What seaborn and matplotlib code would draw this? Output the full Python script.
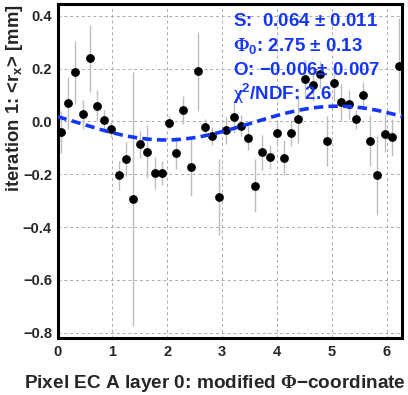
import numpy as np
import pandas as pd
import matplotlib
matplotlib.use("Agg")
import matplotlib.pyplot as plt
from matplotlib.ticker import MultipleLocator
import seaborn as sns

# bin centres in modified phi (48 bins over 0..2pi)
phi = [0.065, 0.196, 0.327, 0.458, 0.589, 0.720, 0.851, 0.982, 1.113, 1.244,
       1.374, 1.505, 1.636, 1.767, 1.898, 2.029, 2.160, 2.291, 2.422, 2.553,
       2.683, 2.814, 2.945, 3.076, 3.207, 3.338, 3.469, 3.600, 3.731, 3.861,
       3.992, 4.123, 4.254, 4.385, 4.516, 4.647, 4.778, 4.909, 5.040, 5.171,
       5.301, 5.432, 5.563, 5.694, 5.825, 5.956, 6.087, 6.218]
# mean residual <r_x> [mm]
rx = [-0.040, 0.071, 0.186, 0.028, 0.239, 0.060, 0.005, -0.030, -0.204, -0.143,
      -0.293, -0.087, -0.115, -0.194, -0.194, -0.004, -0.120, 0.042, -0.173, 0.190,
      -0.021, -0.054, -0.286, -0.034, 0.018, -0.016, -0.062, -0.243, -0.117, -0.135,
      -0.044, -0.137, -0.044, 0.010, 0.161, 0.137, 0.178, -0.073, 0.144, 0.073,
      0.066, 0.008, 0.100, -0.073, -0.204, -0.046, -0.060, 0.211]
rx_err = [0.080, 0.098, 0.118, 0.055, 0.126, 0.058, 0.040, 0.028, 0.056, 0.065,
          0.480, 0.050, 0.100, 0.060, 0.045, 0.025, 0.060, 0.053, 0.110, 0.150,
          0.030, 0.035, 0.145, 0.050, 0.060, 0.040, 0.045, 0.100, 0.065, 0.045,
          0.050, 0.065, 0.050, 0.090, 0.070, 0.060, 0.050, 0.095, 0.065, 0.070,
          0.055, 0.035, 0.050, 0.097, 0.150, 0.070, 0.070, 0.180]

# fit result
fit_S = 0.064
fit_phi0 = 2.75
fit_O = -0.006
fit_lines = [r"S:  0.064 $\pm$ 0.011",
             r"$\mathsf{\Phi}_0$: 2.75 $\pm$ 0.13",
             r"O: $-$0.006$\pm$ 0.007",
             r"$\mathsf{\chi}^2$/NDF: 2.6"]

blue = "#1536f5"

sns.set_style("white")
plt.rcParams["font.family"] = ["Liberation Sans", "DejaVu Sans"]
plt.rcParams["font.weight"] = "bold"
plt.rcParams["mathtext.fontset"] = "custom"
plt.rcParams["mathtext.rm"] = "Liberation Sans:bold"
plt.rcParams["mathtext.bf"] = "Liberation Sans:bold"
plt.rcParams["mathtext.it"] = "Liberation Sans:bold"
plt.rcParams["mathtext.sf"] = "Liberation Serif"
plt.rcParams["mathtext.default"] = "rm"

df = pd.DataFrame({"phi": phi, "rx": rx, "err": rx_err})

phi_fit = np.linspace(0, 2 * np.pi, 300)
fit_df = pd.DataFrame({"phi": phi_fit,
                       "rx": fit_O + fit_S * np.sin(phi_fit + fit_phi0)})

fig = plt.figure(figsize=(4.08, 3.95), dpi=100)
ax = fig.add_axes([0.141, 0.1443, 0.8455, 0.8456])

ax.errorbar(df["phi"], df["rx"], yerr=df["err"], fmt="none",
            ecolor="#bdbdbd", elinewidth=1.0, zorder=2)
sns.scatterplot(data=df, x="phi", y="rx", ax=ax, color="black", s=40,
                edgecolor="black", linewidth=0, zorder=3)
sns.lineplot(data=fit_df, x="phi", y="rx", ax=ax, color=blue, lw=2.6,
             linestyle=(0, (2.6, 1.45)), zorder=4)

ax.set_xlim(0, 2 * np.pi)
ax.set_ylim(-0.82, 0.445)
ax.xaxis.set_major_locator(MultipleLocator(1))
ax.xaxis.set_minor_locator(MultipleLocator(0.2))
ax.yaxis.set_major_locator(MultipleLocator(0.2))
ax.yaxis.set_minor_locator(MultipleLocator(0.05))
ax.tick_params(axis="both", which="both", direction="in",
               top=False, right=False, labelsize=10.5, width=1.6)
ax.tick_params(axis="x", which="major", length=7, pad=5)
ax.tick_params(axis="x", which="minor", length=4)
ax.tick_params(axis="y", which="major", length=9, pad=4)
ax.tick_params(axis="y", which="minor", length=5)
ax.grid(True, which="major", color="#aaaaaa", lw=0.7, linestyle=(0, (3, 3)))
for lab in ax.get_xticklabels() + ax.get_yticklabels():
    lab.set_fontweight("bold")
for sp in ax.spines.values():
    sp.set_linewidth(2.2)
    sp.set_color("black")

ax.set_xlabel(r"Pixel EC A layer 0: modified $\mathsf{\Phi}$$-$coordinate",
              fontsize=13.7, fontweight="bold", ha="right")
ax.xaxis.set_label_coords(1.01, -0.105)
ax.set_ylabel(r"iteration 1: <r$_x$> [mm]", fontsize=13.3,
              fontweight="bold", ha="right")
ax.yaxis.set_label_coords(-0.095, 1.0)

for i, t in enumerate(fit_lines):
    ax.text(0.509, 0.934 - i * 0.074, t, transform=ax.transAxes,
            color=blue, fontsize=13.5, fontweight="bold", va="baseline",
            ha="left", zorder=5)

fig.savefig("out.png", dpi=100)
